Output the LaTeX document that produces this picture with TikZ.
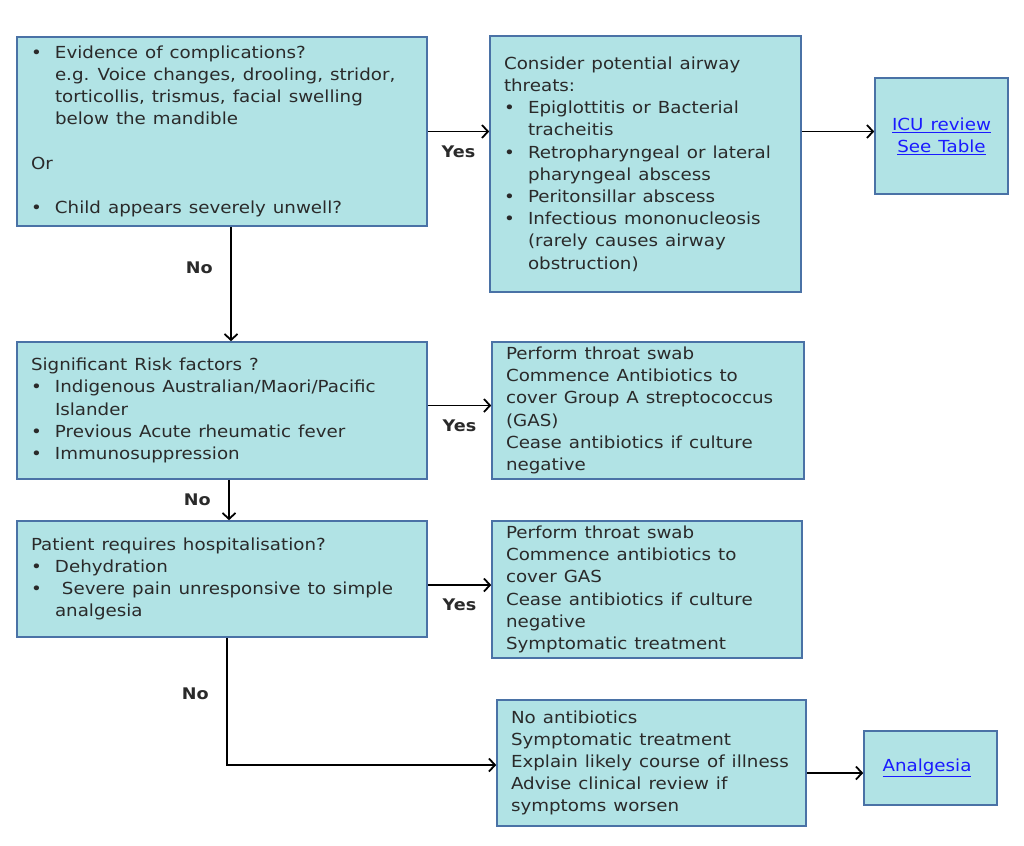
\documentclass[tikz,border=0pt]{standalone}
\usepackage{fontspec}
\setmainfont{DejaVu Sans}[FakeStretch=1.1]
\usepackage{xcolor}
\usetikzlibrary{arrows.meta, positioning, calc}

\definecolor{boxfill}{HTML}{B1E3E5}
\definecolor{boxline}{HTML}{4A72A6}
\definecolor{txtgray}{HTML}{2A2A2A}
\definecolor{linkblue}{HTML}{1A1AFF}

\newcommand{\bul}[1]{\makebox[24pt][l]{•}#1}
\newcommand{\ind}[1]{\hspace*{24pt}#1}
\newcommand{\lnk}[1]{\textcolor{linkblue}{\underline{#1}}}
\newcommand{\boxfont}{\fontsize{16.6}{22.2}\selectfont}
\newcommand{\wordgap}{\setlength{\spaceskip}{7pt plus 1pt}}

\tikzset{
    stepbox/.style={draw=boxline, line width=1.6pt, fill=boxfill, rectangle,
        align=left, inner xsep=14pt, inner ysep=0pt, anchor=center,
        font=\boxfont, text=txtgray, execute at begin node=\wordgap},
    linkbox/.style={stepbox, align=center},
    flow/.style={-{Straight Barb[length=6pt, width=13pt, line width=1.8pt]}, line width=1.8pt, black},
    answer/.style={font=\fontsize{16}{18}\selectfont\bfseries, text=txtgray}
}

\begin{document}
\begin{tikzpicture}[x=1pt, y=-1pt]
    % =========================================================
    % CANVAS
    % =========================================================
    \useasboundingbox (0,0) rectangle (1024,845);

    % =========================================================
    % LEFT COLUMN: DECISION QUESTIONS
    % =========================================================
    \node[stepbox, minimum width=410pt, minimum height=189pt, text width=382pt] (evid) at (222,131.5) {
        \bul{Evidence of complications?}\\
        \ind{e.g. Voice changes, drooling, stridor,}\\
        \ind{torticollis, trismus, facial swelling}\\
        \ind{below the mandible}\\
        \mbox{}\\
        Or\\
        \mbox{}\\
        \bul{Child appears severely unwell?}
    };
    \node[stepbox, minimum width=410pt, minimum height=137pt, text width=382pt] (risk) at (222,410.5) {
        Significant Risk factors ?\\
        \bul{Indigenous Australian/Maori/Pacific}\\
        \ind{Islander}\\
        \bul{Previous Acute rheumatic fever}\\
        \bul{Immunosuppression}
    };
    \node[stepbox, minimum width=410pt, minimum height=116pt, text width=382pt] (hosp) at (222,579) {
        Patient requires hospitalisation?\\
        \bul{Dehydration}\\
        \bul{\ Severe pain unresponsive to simple}\\
        \ind{analgesia}
    };

    % =========================================================
    % MIDDLE COLUMN: ACTIONS
    % =========================================================
    \node[stepbox, minimum width=311pt, minimum height=256pt, text width=283pt] (airway) at (645.5,164) {
        Consider potential airway\\
        threats:\\
        \bul{Epiglottitis or Bacterial}\\
        \ind{tracheitis}\\
        \bul{Retropharyngeal or lateral}\\
        \ind{pharyngeal abscess}\\
        \bul{Peritonsillar abscess}\\
        \bul{Infectious mononucleosis}\\
        \ind{(rarely causes airway}\\
        \ind{obstruction)}
    };
    \node[stepbox, minimum width=312pt, minimum height=137pt, text width=284pt] (swabgas) at (648,410.5) {
        Perform throat swab\\
        Commence Antibiotics to\\
        cover Group A streptococcus\\
        (GAS)\\
        Cease antibiotics if culture\\
        negative
    };
    \node[stepbox, minimum width=310pt, minimum height=137pt, text width=282pt] (swabsym) at (647,589.5) {
        Perform throat swab\\
        Commence antibiotics to\\
        cover GAS\\
        Cease antibiotics if culture\\
        negative\\
        Symptomatic treatment
    };
    \node[stepbox, minimum width=309pt, minimum height=126pt, text width=281pt] (noabx) at (651.5,763) {
        No antibiotics\\
        Symptomatic treatment\\
        Explain likely course of illness\\
        Advise clinical review if\\
        symptoms worsen
    };

    % =========================================================
    % RIGHT COLUMN: LINKS
    % =========================================================
    \node[linkbox, minimum width=133pt, minimum height=116pt] (icu) at (941.5,136) {
        \lnk{ICU review}\\
        \lnk{See Table}
    };
    \node[linkbox, minimum width=133pt, minimum height=74pt] (analg) at (930.5,768) {
        \lnk{Analgesia}
    };

    % =========================================================
    % CONNECTORS
    % =========================================================
    \draw[flow] (evid.east) -- (evid.east -| airway.west)
        node[answer, midway, below=10pt] {Yes};
    \draw[flow] (airway.east |- evid.east) -- (icu.west |- evid.east);
    \draw[flow] ([xshift=9pt]evid.south) -- ([xshift=9pt]evid.south |- risk.north)
        node[answer, pos=0.36, left=14pt] {No};
    \draw[flow] ([yshift=5pt]risk.east) -- ([yshift=5pt]risk.east -| swabgas.west)
        node[answer, midway, below=10pt] {Yes};
    \draw[flow] ([xshift=7pt]risk.south) -- ([xshift=7pt]risk.south |- hosp.north)
        node[answer, midway, left=14pt] {No};
    \draw[flow] ([yshift=-6pt]hosp.east) -- ([yshift=-6pt]hosp.east -| swabsym.west)
        node[answer, midway, below=10pt] {Yes};
    \draw[flow] ([xshift=5pt]hosp.south) |- ([yshift=-2pt]noabx.west)
        node[answer, pos=0.22, left=14pt] {No};
    \draw[flow] ([yshift=-10pt]noabx.east) -- ([yshift=-10pt]noabx.east -| analg.west);
\end{tikzpicture}
\end{document}
